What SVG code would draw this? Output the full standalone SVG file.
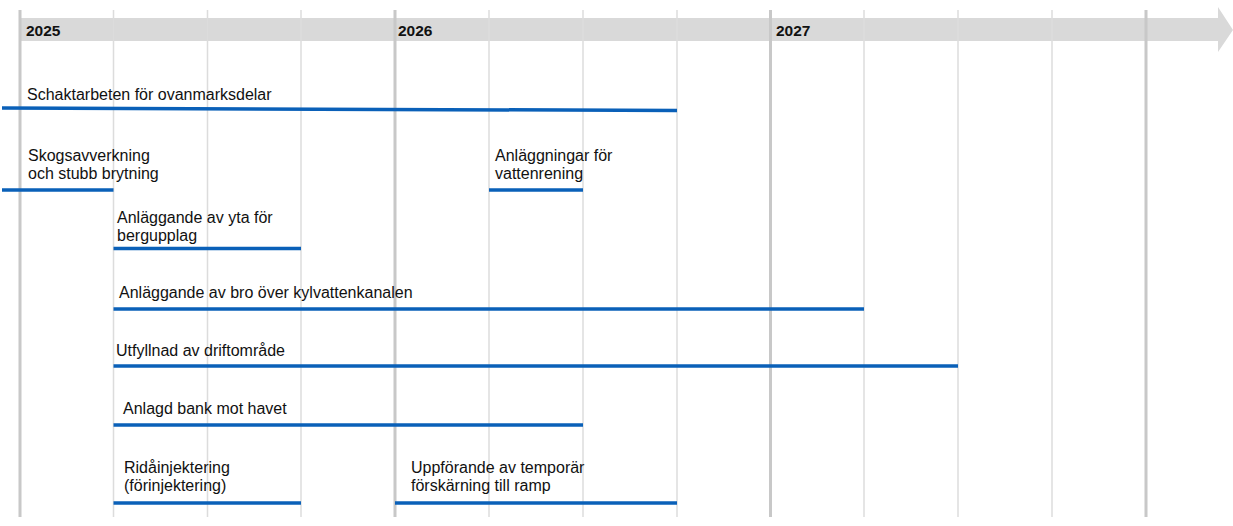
<svg xmlns="http://www.w3.org/2000/svg" width="1233" height="526" viewBox="0 0 1233 526">
<style>
.grid{stroke:#dcdcdc;stroke-width:1.5}
.year{stroke:#c8c8c8;stroke-width:3}
.bar{stroke:#0a60b8;stroke-width:3.5;fill:none}
.lbl{font-family:"Liberation Sans",Arial,sans-serif;font-size:16px;fill:#111}
.yr{font-family:"Liberation Sans",Arial,sans-serif;font-size:15.5px;font-weight:bold;fill:#111}
</style>
<rect width="1233" height="526" fill="#fff"/>
<g id="timeline">
<polygon points="20,18 1218,18 1218,7 1233,30 1218,52 1218,41 20,41" fill="#d9d9d9"/>
<g id="gridlines">
<line class="year" x1="20" y1="10" x2="20" y2="517"/>
<line class="grid" x1="113.5" y1="10" x2="113.5" y2="517"/>
<line class="grid" x1="207.5" y1="10" x2="207.5" y2="517"/>
<line class="grid" x1="301" y1="10" x2="301" y2="517"/>
<line class="year" x1="395" y1="10" x2="395" y2="517"/>
<line class="grid" x1="489" y1="10" x2="489" y2="517"/>
<line class="grid" x1="583" y1="10" x2="583" y2="517"/>
<line class="grid" x1="677" y1="10" x2="677" y2="517"/>
<line class="year" x1="770.5" y1="10" x2="770.5" y2="517"/>
<line class="grid" x1="864" y1="10" x2="864" y2="517"/>
<line class="grid" x1="958" y1="10" x2="958" y2="517"/>
<line class="grid" x1="1052" y1="10" x2="1052" y2="517"/>
<line class="year" x1="1146" y1="10" x2="1146" y2="517"/>
</g>
<text class="yr" x="26" y="36">2025</text>
<text class="yr" x="398" y="36">2026</text>
<text class="yr" x="776" y="36">2027</text>
</g>
<g id="connectors">
<line class="bar" x1="2" y1="108" x2="677" y2="110.5"/>
<line class="bar" x1="2" y1="190" x2="113.5" y2="190"/>
<line class="bar" x1="113.5" y1="248.5" x2="301" y2="248.5"/>
<line class="bar" x1="489" y1="190" x2="583" y2="190"/>
<line class="bar" x1="113.5" y1="309" x2="864" y2="309"/>
<line class="bar" x1="113.5" y1="366" x2="958" y2="366"/>
<line class="bar" x1="113.5" y1="425" x2="583" y2="425"/>
<line class="bar" x1="113.5" y1="503" x2="301" y2="503"/>
<line class="bar" x1="395" y1="503" x2="677" y2="503"/>
</g>
<g id="task1"><text class="lbl" x="27" y="100">Schaktarbeten för ovanmarksdelar</text></g>
<g id="task2"><text class="lbl" x="28" y="161">Skogsavverkning</text><text class="lbl" x="28" y="179">och stubb brytning</text></g>
<g id="task3"><text class="lbl" x="117" y="223">Anläggande av yta för</text><text class="lbl" x="117" y="241">bergupplag</text></g>
<g id="task4"><text class="lbl" x="495" y="161">Anläggningar för</text><text class="lbl" x="495" y="179">vattenrening</text></g>
<g id="task5"><text class="lbl" x="119" y="298">Anläggande av bro över kylvattenkanalen</text></g>
<g id="task6"><text class="lbl" x="116" y="356">Utfyllnad av driftområde</text></g>
<g id="task7"><text class="lbl" x="123" y="414">Anlagd bank mot havet</text></g>
<g id="task8"><text class="lbl" x="124" y="473">Ridåinjektering</text><text class="lbl" x="124" y="491">(förinjektering)</text></g>
<g id="task9"><text class="lbl" x="411" y="473">Uppförande av temporär</text><text class="lbl" x="411" y="491">förskärning till ramp</text></g>
</svg>
